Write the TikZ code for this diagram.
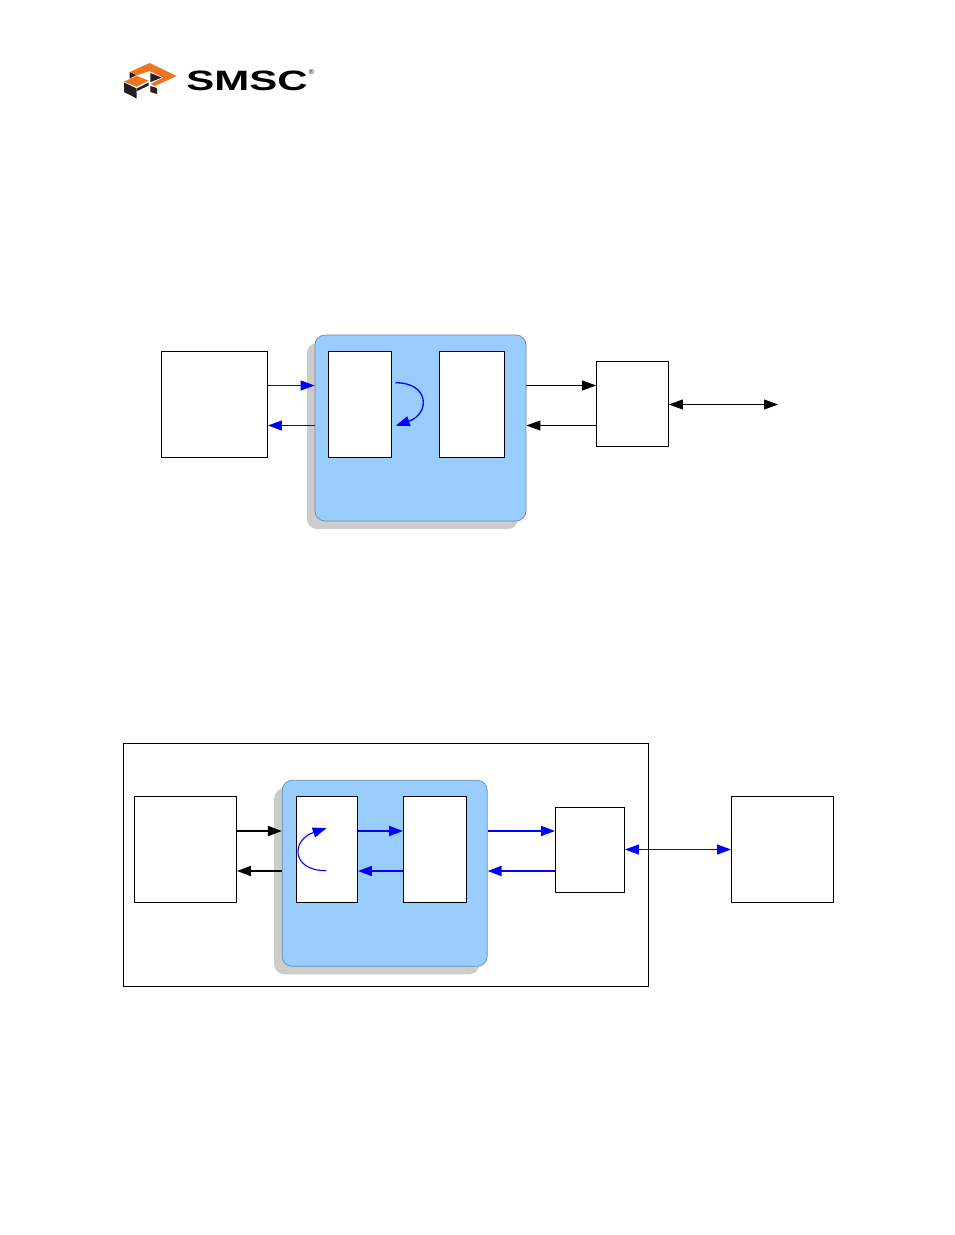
\documentclass[tikz,border=0pt]{standalone}
\usepackage{fontspec}
\setmainfont{Liberation Sans}
\usetikzlibrary{arrows.meta,shadows}
\definecolor{chipblue}{HTML}{99CCFF}
\definecolor{chipedge}{HTML}{6F87A8}
\definecolor{shadegray}{HTML}{CCCCCC}
\definecolor{logoorange}{HTML}{EE7623}
\definecolor{logoblack}{HTML}{231F20}
\tikzset{
  blockbox/.style={draw=black,fill=white,line width=0.9pt,inner sep=0pt},
  chipbox/.style={draw=chipedge,fill=chipblue,line width=0.7pt,inner sep=0pt,
    rounded corners=10pt,minimum width=211pt,
    drop shadow={shadow xshift=-8pt,shadow yshift=-8pt,fill=shadegray,opacity=1}},
  wire/.style={line width=0.9pt,-{Triangle[length=14pt,width=10pt]}},
  thickwire/.style={wire,line width=1.9pt},
  bothwire/.style={wire,{Triangle[length=14pt,width=10pt]}-{Triangle[length=14pt,width=10pt]}},
}
\begin{document}
\begin{tikzpicture}[x=1pt,y=-1pt]
  \useasboundingbox (0,0) rectangle (954,1235);

  % logo
  \fill[logoblack] (129.7,72) -- (136.5,75) -- (129.7,78.5) -- cycle;
  \fill[logoorange] (129.7,72) -- (149.7,63) -- (176.7,76) -- (155,86) -- (150.3,84) -- (163,77.5) -- (149.5,71) -- (137,75.3) -- cycle;
  \fill[logoblack] (150.3,73) -- (161.5,77.5) -- (150.3,82.3) -- cycle;
  \fill[logoorange] (124,81.7) -- (136.7,75.8) -- (148.7,80.7) -- (136.7,86.7) -- cycle;
  \fill[logoblack] (124,82.5) -- (136.7,88.5) -- (136.7,98.5) -- (124,92) -- cycle;
  \fill[logoblack] (137.2,88.3) -- (148.7,82.5) -- (148.7,85.5) -- (137.2,91) -- cycle;
  \fill[logoblack] (150.3,86) -- (157,88) -- (157,94) -- (150.3,92) -- cycle;
  \node (logotext) at (247,80.5) [xscale=1.5,transform shape,inner sep=0pt]
    {\fontsize{28pt}{28pt}\selectfont\bfseries SMSC};
  \node (logomark) at (311.5,72.5) [inner sep=0pt]
    {\fontsize{7pt}{7pt}\selectfont ®};

  % first diagram
  \coordinate (wire1a) at (0,385.5);
  \coordinate (wire1b) at (0,425.5);
  \coordinate (wire1c) at (0,404.5);
  \coordinate (free1) at (778,404.5);
  \coordinate (loop1a) at (395.5,382.7);
  \coordinate (loop1b) at (395.7,425.7);

  \node[blockbox,minimum width=106pt,minimum height=106pt] (host1) at (214.5,404.5) {};
  \node[chipbox,minimum height=186pt] (chip1) at (420.5,428) {};
  \node[blockbox,minimum width=63pt,minimum height=106pt] (left1) at (360,404.5) {};
  \node[blockbox,minimum width=65pt,minimum height=106pt] (right1) at (472,404.5) {};
  \node[blockbox,minimum width=72pt,minimum height=85pt] (phy1) at (632.5,404) {};

  \begin{scope}[blue]
    \draw[wire] (host1.east |- wire1a) to (chip1.west |- wire1a);
    \draw[wire] (chip1.west |- wire1b) to (host1.east |- wire1b);
    \draw[wire,line width=1.3pt] (loop1a) .. controls (430,382.7) and (430,414) .. (loop1b);
  \end{scope}
  \begin{scope}[black]
    \draw[wire] (chip1.east |- wire1a) to (phy1.west |- wire1a);
    \draw[wire] (phy1.west |- wire1b) to (chip1.east |- wire1b);
    \draw[bothwire] (phy1.east |- wire1c) to (free1);
  \end{scope}

  % second diagram
  \coordinate (wire2a) at (0,831);
  \coordinate (wire2b) at (0,871);
  \coordinate (wire2c) at (0,849.5);
  \coordinate (loop2a) at (326,870.7);
  \coordinate (loop2b) at (326.7,828);

  \node[blockbox,minimum width=525pt,minimum height=243pt] (board2) at (386,865) {};
  \node[blockbox,minimum width=102pt,minimum height=106pt] (host2) at (185.5,849.5) {};
  \node[chipbox,minimum width=205pt,minimum height=186pt] (chip2) at (384.7,873.3) {};
  \node[blockbox,minimum width=61pt,minimum height=106pt] (left2) at (327,849.5) {};
  \node[blockbox,minimum width=63pt,minimum height=106pt] (right2) at (435,849.5) {};
  \node[blockbox,minimum width=69pt,minimum height=85pt] (phy2) at (590,850) {};
  \node[blockbox,minimum width=102pt,minimum height=106pt] (remote2) at (782.5,849.5) {};

  \begin{scope}[black]
    \draw[thickwire] (host2.east |- wire2a) to (chip2.west |- wire2a);
    \draw[thickwire] (chip2.west |- wire2b) to (host2.east |- wire2b);
  \end{scope}
  \begin{scope}[blue]
    \draw[thickwire] (left2.east |- wire2a) to (right2.west |- wire2a);
    \draw[thickwire] (right2.west |- wire2b) to (left2.east |- wire2b);
    \draw[thickwire] (chip2.east |- wire2a) to (phy2.west |- wire2a);
    \draw[thickwire] (phy2.west |- wire2b) to (chip2.east |- wire2b);
    \draw[wire,line width=1.1pt] (loop2a) .. controls (291,870.7) and (291,840) .. (loop2b);
    \draw[bothwire] (phy2.east |- wire2c) to (remote2.west |- wire2c);
  \end{scope}
\end{tikzpicture}
\end{document}
